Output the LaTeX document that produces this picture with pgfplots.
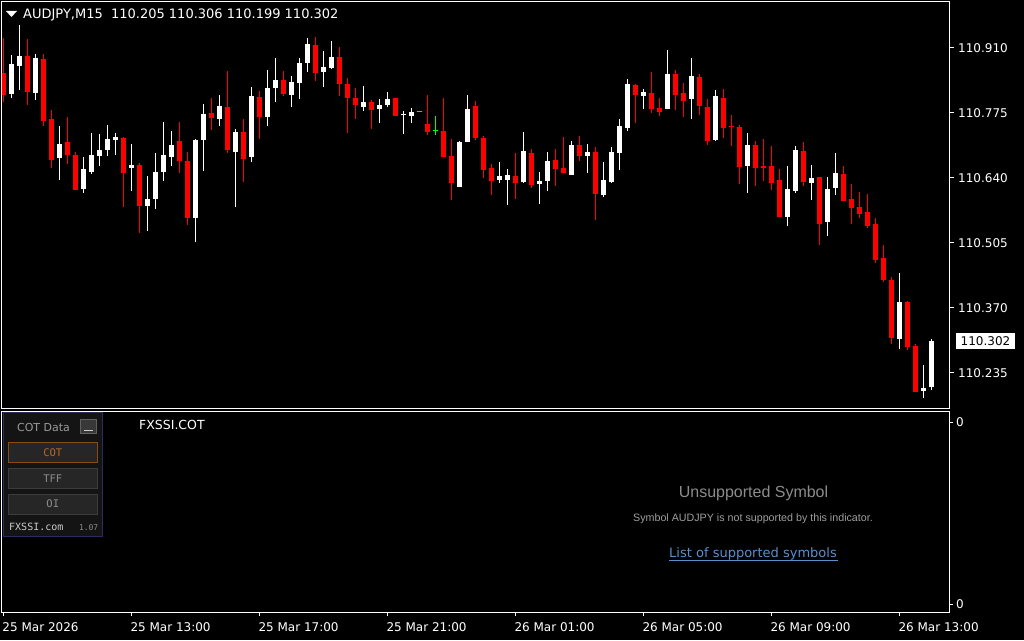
\documentclass[border=0pt]{standalone}
\usepackage{pgfplots}
\pgfplotsset{compat=1.18}
\usepackage{pgfplotstable}
\usepackage{fontspec}
\setmainfont{DejaVu Sans}
\newfontfamily\lib{Liberation Sans}
\newfontfamily\mono{DejaVu Sans Mono}
\definecolor{candred}{HTML}{FF0000}
\definecolor{candwhite}{HTML}{FFFFFF}
\definecolor{dojigreen}{HTML}{00FF00}
\definecolor{boxfill}{HTML}{141414}
\definecolor{boxedge}{HTML}{2B2D5E}
\definecolor{btnfill}{HTML}{262626}
\definecolor{btnedge}{HTML}{3C3C3C}
\definecolor{cotedge}{HTML}{8A4A14}
\definecolor{cottext}{HTML}{B8682A}
\definecolor{greytext}{HTML}{9A9A9A}
\definecolor{linkblue}{HTML}{5A8FCC}

\pgfplotstableread{
k o h l c
0 110.858 110.931 110.798 110.812
3 110.893 110.929 110.792 110.819
5 110.887 110.898 110.748 110.758
6 110.763 110.781 110.661 110.677
8 110.715 110.767 110.669 110.688
9 110.688 110.694 110.615 110.615
15 110.723 110.725 110.580 110.650
17 110.667 110.671 110.526 110.582
22 110.717 110.756 110.650 110.675
23 110.675 110.694 110.542 110.557
26 110.775 110.806 110.740 110.765
28 110.788 110.862 110.692 110.698
30 110.736 110.763 110.632 110.680
32 110.808 110.821 110.721 110.767
35 110.844 110.862 110.810 110.815
39 110.916 110.933 110.842 110.858
42 110.891 110.912 110.810 110.835
43 110.835 110.848 110.734 110.806
44 110.806 110.827 110.763 110.792
46 110.798 110.802 110.742 110.781
49 110.806 110.806 110.769 110.769
53 110.752 110.812 110.729 110.736
55 110.738 110.806 110.684 110.684
56 110.686 110.721 110.594 110.630
59 110.790 110.800 110.719 110.723
60 110.723 110.727 110.640 110.657
61 110.661 110.669 110.605 110.634
64 110.644 110.692 110.596 110.630
66 110.692 110.700 110.619 110.626
69 110.677 110.700 110.623 110.659
70 110.661 110.725 110.650 110.650
72 110.709 110.727 110.675 110.686
74 110.694 110.704 110.553 110.607
79 110.833 110.835 110.754 110.812
81 110.817 110.860 110.775 110.783
82 110.785 110.806 110.769 110.777
84 110.856 110.864 110.781 110.812
85 110.817 110.837 110.767 110.800
87 110.850 110.856 110.771 110.790
88 110.788 110.804 110.709 110.717
90 110.806 110.825 110.723 110.744
91 110.748 110.771 110.706 110.746
92 110.746 110.750 110.628 110.663
94 110.709 110.717 110.623 110.661
95 110.665 110.721 110.634 110.661
96 110.665 110.706 110.615 110.630
97 110.636 110.659 110.559 110.559
100 110.696 110.715 110.623 110.632
102 110.642 110.642 110.501 110.545
105 110.648 110.665 110.592 110.592
106 110.596 110.628 110.545 110.578
107 110.580 110.611 110.557 110.565
108 110.569 110.607 110.536 110.540
109 110.545 110.557 110.464 110.470
110 110.474 110.501 110.424 110.428
111 110.428 110.434 110.295 110.308
113 110.382 110.385 110.283 110.289
114 110.291 110.295 110.196 110.196
}\redtab

\pgfplotstableread{
k o h l c
1 110.815 110.895 110.806 110.877
2 110.873 110.958 110.823 110.893
4 110.817 110.898 110.802 110.889
7 110.682 110.748 110.636 110.711
10 110.617 110.684 110.609 110.659
11 110.652 110.734 110.648 110.688
12 110.686 110.731 110.665 110.698
13 110.698 110.750 110.686 110.721
14 110.719 110.734 110.688 110.725
16 110.661 110.711 110.613 110.667
18 110.582 110.644 110.530 110.596
19 110.596 110.692 110.576 110.652
20 110.652 110.756 110.634 110.688
21 110.684 110.738 110.665 110.709
24 110.557 110.721 110.507 110.719
25 110.719 110.794 110.655 110.773
27 110.763 110.812 110.748 110.790
29 110.694 110.742 110.580 110.736
31 110.684 110.829 110.673 110.810
33 110.767 110.864 110.748 110.827
34 110.827 110.889 110.798 110.844
36 110.812 110.852 110.788 110.839
37 110.837 110.889 110.804 110.879
38 110.879 110.931 110.860 110.918
40 110.860 110.904 110.829 110.871
41 110.869 110.925 110.866 110.891
45 110.788 110.831 110.779 110.798
47 110.783 110.804 110.754 110.792
48 110.792 110.819 110.788 110.804
50 110.770 110.779 110.731 110.771
51 110.769 110.785 110.754 110.777
57 110.621 110.717 110.621 110.715
58 110.715 110.812 110.715 110.783
62 110.636 110.673 110.630 110.644
63 110.636 110.659 110.584 110.646
65 110.632 110.736 110.630 110.696
67 110.628 110.652 110.586 110.634
68 110.634 110.694 110.613 110.675
71 110.646 110.717 110.646 110.709
73 110.686 110.711 110.650 110.694
75 110.605 110.673 110.601 110.636
76 110.632 110.704 110.630 110.694
77 110.692 110.763 110.657 110.748
78 110.744 110.846 110.738 110.835
80 110.810 110.825 110.783 110.819
83 110.783 110.906 110.783 110.856
86 110.804 110.889 110.763 110.852
89 110.719 110.823 110.717 110.810
93 110.665 110.734 110.609 110.709
98 110.559 110.665 110.540 110.617
99 110.613 110.706 110.609 110.698
101 110.630 110.667 110.594 110.640
103 110.549 110.642 110.520 110.617
104 110.619 110.692 110.605 110.650
112 110.306 110.443 110.285 110.382
115 110.198 110.252 110.183 110.204
116 110.205 110.306 110.199 110.302
}\whitetab

\pgfplotstableread{
k o h l c
52 110.777 110.777 110.777 110.777
54 110.738 110.769 110.729 110.738
}\dojitab

\pgfplotsset{
  wick/.style={draw=none, mark=none, forget plot,
    error bars/.cd, y dir=plus, y explicit, error mark=none,
    error bar style={draw=#1, line width=1pt, line cap=butt}},
  body/.style={draw=none, mark=none, forget plot,
    error bars/.cd, y dir=plus, y explicit, error mark=none,
    error bar style={draw=#1, line width=5pt, line cap=butt}},
}

\begin{document}
\begin{tikzpicture}
\path[use as bounding box, fill=black] (0pt,0pt) rectangle (1024pt,640pt);

\begin{axis}[
  at={(2pt,231pt)}, anchor=south west,
  width=947pt, height=407pt, scale only axis,
  xmin=-0.1625, xmax=118.21,
  ymin=110.1602, ymax=111.0055,
  axis line style={draw=white, line width=1pt},
  xtick=\empty,
  ytick={110.235,110.370,110.505,110.640,110.775,110.910},
  yticklabels={110.235,110.370,110.505,110.640,110.775,110.910},
  ytick pos=right, yticklabel pos=right,
  tick align=outside, major tick length=5pt,
  tick style={draw=white, line width=1pt},
  yticklabel style={font=\fontsize{12}{14}\selectfont, text=white, anchor=west, inner sep=0pt, xshift=4pt},
]
\addplot[wick=candred] table[x=k, y=l, y error plus expr=\thisrow{h}-\thisrow{l}] {\redtab};
\addplot[body=candred] table[x=k, y expr={min(\thisrow{o},\thisrow{c})}, y error plus expr={max(abs(\thisrow{c}-\thisrow{o}),0.0021)}] {\redtab};
\addplot[wick=candwhite] table[x=k, y=l, y error plus expr=\thisrow{h}-\thisrow{l}] {\whitetab};
\addplot[body=candwhite] table[x=k, y expr={min(\thisrow{o},\thisrow{c})}, y error plus expr={max(abs(\thisrow{c}-\thisrow{o}),0.0021)}] {\whitetab};
\addplot[wick=dojigreen] table[x=k, y=l, y error plus expr=\thisrow{h}-\thisrow{l}] {\dojitab};
\addplot[body=dojigreen] table[x=k, y expr={min(\thisrow{o},\thisrow{c})-0.001}, y error plus expr={0.0021}] {\dojitab};
\end{axis}

\begin{axis}[
  at={(2pt,28pt)}, anchor=south west,
  width=947pt, height=201pt, scale only axis,
  xmin=-0.1625, xmax=118.21,
  ymin=0, ymax=201,
  axis line style={draw=white, line width=1pt},
  xtick={0,16,32,48,64,80,96,112},
  xticklabels={25 Mar 2026, 25 Mar 13:00, 25 Mar 17:00, 25 Mar 21:00, 26 Mar 01:00, 26 Mar 05:00, 26 Mar 09:00, 26 Mar 13:00},
  xtick pos=left,
  ytick={8,190}, yticklabels={0,0},
  ytick pos=right, yticklabel pos=right,
  tick align=outside, major tick length=4pt,
  tick style={draw=white, line width=1pt},
  xticklabel style={font=\fontsize{12}{14}\selectfont, text=white, anchor=north west, inner sep=0pt, xshift=-1pt, yshift=-6pt},
  yticklabel style={font=\fontsize{12}{14}\selectfont, text=white, anchor=west, inner sep=0pt, xshift=3pt},
]
\end{axis}

\begin{scope}[x=1pt,y=1pt]
% header
\fill[white] (6,629) -- (17,629) -- (11.5,623) -- cycle;
\node[anchor=west, inner sep=0pt, text=white, font=\fontsize{13}{15}\selectfont] at (23,625.5) {AUDJPY,M15\ \ 110.205 110.306 110.199 110.302};

% current price label
\node[fill=white, text=black, inner sep=0pt, minimum width=59pt, minimum height=16pt, font=\fontsize{12}{14}\selectfont] at (985.5,298.5) {110.302};

% indicator name
\node[anchor=west, inner sep=0pt, text=white, font=\fontsize{12.5}{15}\selectfont] at (139,215.5) {FXSSI.COT};

% COT panel
\filldraw[fill=boxfill, draw=boxedge, line width=1pt] (3.5,227) rectangle (102,104);
\node[inner sep=0pt, text=greytext, font=\fontsize{11}{13}\selectfont] at (43.5,212.5) {COT Data};
\filldraw[fill=black!78, draw=black!62, line width=1pt] (80.5,220.5) rectangle (96.5,206.5);
\draw[white!80!black, line width=1pt] (84,210) -- (93,210);
\filldraw[fill=btnfill, draw=cotedge, line width=1pt] (8.5,197.5) rectangle (97,177.5);
\node[inner sep=0pt, text=cottext, font=\mono\fontsize{10.5}{12}\selectfont] at (52.75,187.5) {COT};
\filldraw[fill=btnfill, draw=btnedge, line width=1pt] (8.5,171.5) rectangle (97,151.5);
\node[inner sep=0pt, text=black!45, font=\mono\fontsize{10.5}{12}\selectfont] at (52.75,161.5) {TFF};
\filldraw[fill=btnfill, draw=btnedge, line width=1pt] (8.5,145.5) rectangle (97,126);
\node[inner sep=0pt, text=black!45, font=\mono\fontsize{10.5}{12}\selectfont] at (52.75,136) {OI};
\node[anchor=west, inner sep=0pt, text=black!20, font=\mono\fontsize{10}{12}\selectfont] at (9,113) {FXSSI.com};
\node[anchor=east, inner sep=0pt, text=black!45, font=\mono\fontsize{8}{10}\selectfont] at (98.5,112.5) {1.07};

% unsupported message
\node[inner sep=0pt, text=black!45, font=\lib\fontsize{16}{18}\selectfont] at (753.5,147) {Unsupported Symbol};
\node[inner sep=0pt, text=black!38, font=\lib\fontsize{10.7}{12}\selectfont] at (753,121.5) {Symbol AUDJPY is not supported by this indicator.};
\node[inner sep=0pt, text=linkblue, font=\fontsize{13}{15}\selectfont] at (753,86.5) {List of supported symbols};
\draw[linkblue, line width=0.8pt] (669,80) -- (838,80);
\end{scope}
\end{tikzpicture}
\end{document}
